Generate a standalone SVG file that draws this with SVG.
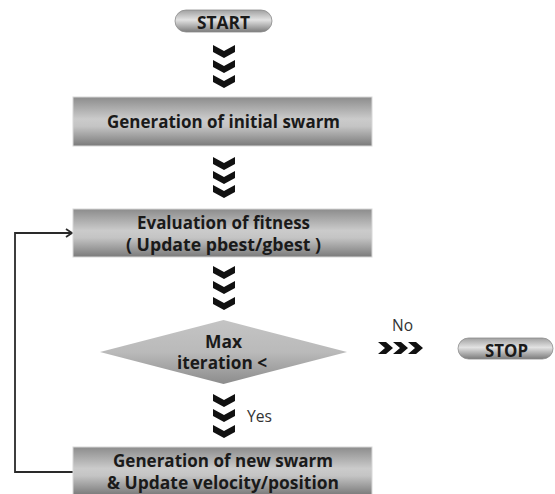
<svg xmlns="http://www.w3.org/2000/svg" width="555" height="494" viewBox="0 0 555 494">
<style>
.t{font-family:"Open Sans","Noto Sans","Liberation Sans",sans-serif;font-weight:bold;font-size:17px;fill:#1a1a1a;text-anchor:middle}
.r{font-family:"Open Sans","Noto Sans","Liberation Sans",sans-serif;font-size:15.5px;fill:#333;text-anchor:middle}
.box{fill:url(#gBox);stroke:#d8d8d8;stroke-width:1}
.pill{fill:url(#gPill);stroke:#8a8a8a;stroke-width:0.8}
.chev{fill:#111}
.conn{fill:none;stroke:#2a2a2a;stroke-width:1.8}
</style>
<defs>
<linearGradient id="gBox" x1="0" y1="0" x2="0" y2="1">
<stop offset="0" stop-color="#8c8c8c"/>
<stop offset="0.45" stop-color="#cbcbcb"/>
<stop offset="0.6" stop-color="#c4c4c4"/>
<stop offset="1" stop-color="#7a7a7a"/>
</linearGradient>
<linearGradient id="gPill" x1="0" y1="0" x2="0" y2="1">
<stop offset="0" stop-color="#a0a0a0"/>
<stop offset="0.45" stop-color="#e2e2e2"/>
<stop offset="1" stop-color="#7c7c7c"/>
</linearGradient>
<linearGradient id="gDia" x1="0" y1="0" x2="0" y2="1">
<stop offset="0" stop-color="#c4c4c4"/>
<stop offset="0.5" stop-color="#bababa"/>
<stop offset="1" stop-color="#8c8c8c"/>
</linearGradient>
<path id="cd" d="M-11,0 L0,6 L11,0 L11,7 L0,13 L-11,7 Z"/>
<path id="cr" d="M0,0 L8,0 L15,6 L8,12 L0,12 L7,6 Z"/>
<marker id="arr" markerWidth="10" markerHeight="10" refX="8" refY="5" orient="auto" markerUnits="userSpaceOnUse">
<path d="M2,1 L8,5 L2,9" fill="none" stroke="#2a2a2a" stroke-width="1.8"/>
</marker>
</defs>

<g id="connectors">
<polyline class="conn" points="73,472 15,472 15,233 72,233" marker-end="url(#arr)"/>
<g id="chev1" class="chev"><use href="#cd" x="224" y="45"/><use href="#cd" x="224" y="60"/><use href="#cd" x="224" y="75"/></g>
<g id="chev2" class="chev"><use href="#cd" x="224" y="157"/><use href="#cd" x="224" y="171"/><use href="#cd" x="224" y="185"/></g>
<g id="chev3" class="chev"><use href="#cd" x="224" y="266"/><use href="#cd" x="224" y="281"/><use href="#cd" x="224" y="297"/></g>
<g id="chev4" class="chev"><use href="#cd" x="224" y="394"/><use href="#cd" x="224" y="409"/><use href="#cd" x="224" y="425"/></g>
<g id="chev5" class="chev"><use href="#cr" x="378" y="342"/><use href="#cr" x="393" y="342"/><use href="#cr" x="408" y="342"/></g>
<text class="r" x="402.5" y="331" textLength="21" lengthAdjust="spacingAndGlyphs">No</text>
<text class="r" x="259.5" y="422" textLength="25" lengthAdjust="spacingAndGlyphs">Yes</text>
</g>

<g id="start">
<rect class="pill" x="175" y="10" width="97" height="22" rx="11"/>
<text class="t" x="223.5" y="29" textLength="53" lengthAdjust="spacingAndGlyphs">START</text>
</g>

<g id="init">
<rect class="box" x="73" y="97" width="299" height="49"/>
<text class="t" x="223.5" y="128" textLength="233" lengthAdjust="spacingAndGlyphs">Generation of initial swarm</text>
</g>

<g id="eval">
<rect class="box" x="73" y="209" width="299" height="48"/>
<text class="t" x="223.5" y="229" textLength="173" lengthAdjust="spacingAndGlyphs">Evaluation of fitness</text>
<text class="t" x="223.5" y="251" textLength="195" lengthAdjust="spacingAndGlyphs">( Update pbest/gbest )</text>
</g>

<g id="decision">
<polygon points="100,352 223.5,320 347,352 223.5,384" fill="url(#gDia)"/>
<text class="t" x="223.5" y="348" textLength="37" lengthAdjust="spacingAndGlyphs">Max</text>
<text class="t" x="222" y="369" textLength="90" lengthAdjust="spacingAndGlyphs">iteration  &lt;</text>
</g>

<g id="stop">
<rect class="pill" x="458" y="338" width="95" height="21" rx="10.5"/>
<text class="t" x="506.5" y="357" textLength="43" lengthAdjust="spacingAndGlyphs">STOP</text>
</g>

<g id="newswarm">
<rect class="box" x="73" y="447" width="299" height="48"/>
<text class="t" x="223" y="467" textLength="220" lengthAdjust="spacingAndGlyphs">Generation of new swarm</text>
<text class="t" x="223" y="489" textLength="232" lengthAdjust="spacingAndGlyphs">&amp; Update velocity/position</text>
</g>
</svg>
